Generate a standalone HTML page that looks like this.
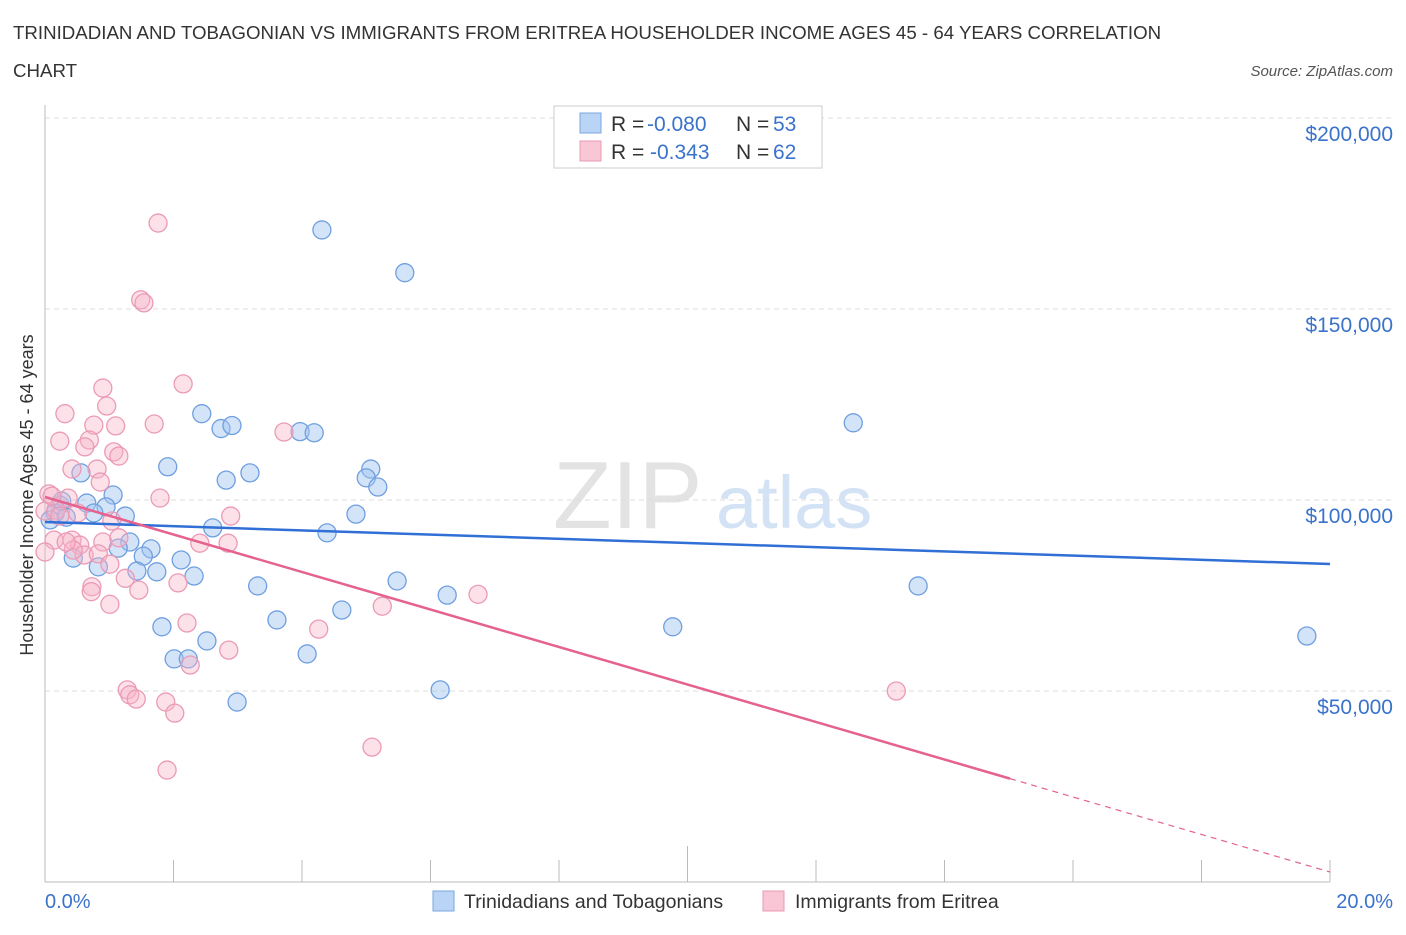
<!DOCTYPE html>
<html><head><meta charset="utf-8">
<style>
body{margin:0;background:#fff;font-family:"Liberation Sans",sans-serif;}
svg text{font-family:"Liberation Sans",sans-serif;}
</style></head>
<body>
<svg id="chart" width="1406" height="930" xmlns="http://www.w3.org/2000/svg">
<text x="13" y="39" font-size="18.7" fill="#333">TRINIDADIAN AND TOBAGONIAN VS IMMIGRANTS FROM ERITREA HOUSEHOLDER INCOME AGES 45 - 64 YEARS CORRELATION</text>
<text x="13" y="77" font-size="18.7" fill="#333">CHART</text>
<text x="1393" y="76" font-size="15" fill="#555" font-style="italic" text-anchor="end">Source: ZipAtlas.com</text>
<g>
<text x="553" y="528" font-size="96" fill="#d8d8d8" font-family="Liberation Serif" opacity="0.7">ZIP</text>
<text x="716" y="528" font-size="74" fill="#c9dcf2" opacity="0.8">atlas</text>
</g>
<g id="grid"></g>
<g id="axes"></g>
<g id="points"></g>
<g id="trends"></g>
<text transform="translate(33,495) rotate(-90)" font-size="18" fill="#333" text-anchor="middle">Householder Income Ages 45 - 64 years</text>
<g>
<rect x="554" y="106" width="268" height="62" fill="#fff" stroke="#ccc"/>
<rect x="580" y="113" width="21" height="20" fill="#b9d4f5" stroke="#7aa7e0"/>
<rect x="580" y="141" width="21" height="20" fill="#f9c6d5" stroke="#e89ab5"/>
<text x="611" y="131" font-size="21" fill="#333">R =</text>
<text x="647" y="131" font-size="21" fill="#3a72cc">-0.080</text>
<text x="736" y="131" font-size="21" fill="#333">N =</text>
<text x="773" y="131" font-size="21" fill="#3a72cc">53</text>
<text x="611" y="159" font-size="21" fill="#333">R =</text>
<text x="650" y="159" font-size="21" fill="#3a72cc">-0.343</text>
<text x="736" y="159" font-size="21" fill="#333">N =</text>
<text x="773" y="159" font-size="21" fill="#3a72cc">62</text>
</g>
<g>
<rect x="433" y="891" width="21" height="20" fill="#b9d4f5" stroke="#7aa7e0"/>
<text x="464" y="908" font-size="19.5" fill="#333">Trinidadians and Tobagonians</text>
<rect x="763" y="891" width="21" height="20" fill="#f9c6d5" stroke="#e89ab5"/>
<text x="795" y="908" font-size="19.5" fill="#333">Immigrants from Eritrea</text>
</g>
</svg>
<script>
const blueX=[4.31,5.60,12.58,2.44,2.74,2.91,3.97,4.19,1.91,3.19,2.82,5.07,5.00,5.18,0.56,1.06,0.65,0.95,0.23,0.16,0.33,0.76,1.25,4.84,2.61,4.39,1.32,1.14,1.65,1.53,2.12,0.44,0.83,1.43,1.74,2.32,3.31,5.48,13.59,6.26,4.62,3.61,1.82,2.52,9.77,19.64,4.08,2.01,2.23,6.15,2.99,0.08,0.26];
const blueY=[170700,159500,120200,122600,118700,119500,117900,117600,108700,107100,105200,108100,105800,103400,107100,101300,99200,98200,98700,96600,95500,96600,95800,96300,92700,91400,89000,87400,87200,85300,84300,84800,82500,81400,81200,80100,77500,78800,77500,75100,71200,68600,66800,63100,66800,64400,59700,58400,58400,50300,47100,94800,99700];
const pinkX=[1.76,1.49,1.54,2.15,0.90,0.96,0.31,1.70,0.76,1.10,3.72,0.69,0.23,0.62,1.07,1.15,0.42,0.81,0.86,0.06,0.36,1.79,0,0.17,0.51,1.04,2.89,0.14,0.42,0.54,2.41,2.85,0.90,0.61,0.83,0.44,1.15,2.07,0.73,0.72,1.25,1.46,1.01,2.21,4.26,5.25,6.74,2.86,2.26,1.28,1.32,1.42,1.88,2.02,13.25,5.09,1.90,0,0.23,1.01,0.33,0.11];
const pinkY=[172500,152400,151600,130400,129300,124600,122600,119900,119600,119400,117800,115700,115400,113900,112600,111500,108100,108100,104700,101600,100500,100500,97100,97400,96600,94500,95800,89500,89500,88200,88700,88700,89000,85600,85900,86900,90100,78300,77300,76000,79500,76400,72700,67800,66200,72200,75300,60700,56800,50300,49000,47900,47100,44200,50000,35300,29300,86400,95800,83200,89000,101000];
const trendBlue=[94241,83246];
const trendPink=[100785,2618];
const pinkSolidEnd=15.02;
const yTicks=[50000,100000,150000,200000];
const yTickLabels=["$50,000","$100,000","$150,000","$200,000"];
const xTickLabels=["0.0%","20.0%"];
const NS="http://www.w3.org/2000/svg";
const X=v=>45+v/20*1285;
const Y=v=>882-v/50000*191;
function mk(tag,attrs,parent){const e=document.createElementNS(NS,tag);for(const k in attrs)e.setAttribute(k,attrs[k]);parent.appendChild(e);return e;}
const grid=document.getElementById('grid'),axes=document.getElementById('axes'),pts=document.getElementById('points'),tr=document.getElementById('trends');
yTicks.forEach((t,i)=>{
 const l=mk('line',{x1:45,x2:1393,y1:Y(t),y2:Y(t),stroke:'#ddd','stroke-dasharray':'5,4'},grid);
 
 
 const tx=mk('text',{x:1393,y:Y(t)+23,'font-size':21,fill:'#3a72cc','text-anchor':'end'},axes);
 tx.textContent=yTickLabels[i];
 
 
});
const ax=mk('line',{x1:45,x2:45,y1:105,y2:882,stroke:'#bbb'},axes);


const bx=mk('line',{x1:45,x2:1330,y1:882,y2:882,stroke:'#bbb'},axes);


for(let i=0;i<=10;i++){
 const t=mk('line',{x1:X(i*2),x2:X(i*2),y1:i===5?846:860,y2:882,stroke:'#bbb'},axes);
 
 
}
[[0,'start',45],[1,'end',1393]].forEach(([i,a,x])=>{
 const tx=mk('text',{x:x,y:908,'font-size':20,fill:'#3a72cc','text-anchor':a},axes);
 tx.textContent=xTickLabels[i];
 
 
});
blueX.forEach((v,i)=>{
 const c=mk('circle',{cx:X(v),cy:Y(blueY[i]),r:9,fill:'rgba(160,195,240,0.45)',stroke:'#6f9fe0','stroke-width':1.3},pts);
 
 
});
pinkX.forEach((v,i)=>{
 const c=mk('circle',{cx:X(v),cy:Y(pinkY[i]),r:9,fill:'rgba(248,180,200,0.4)',stroke:'#eb9ab6','stroke-width':1.3},pts);
 
 
});
const lb=mk('line',{x1:X(0),y1:Y(trendBlue[0]),x2:X(20),y2:Y(trendBlue[1]),stroke:'#2f6fd6','stroke-width':2.5},tr);


const py=x=>trendPink[0]+(trendPink[1]-trendPink[0])*x/20;
const lp=mk('line',{x1:X(0),y1:Y(py(0)),x2:X(pinkSolidEnd),y2:Y(py(pinkSolidEnd)),stroke:'#e5628f','stroke-width':2.5},tr);


const ld=mk('line',{x1:X(pinkSolidEnd),y1:Y(py(pinkSolidEnd)),x2:X(20),y2:Y(py(20)),stroke:'#e5628f','stroke-width':1.2,'stroke-dasharray':'6,5'},tr);


</script>
</body></html>
